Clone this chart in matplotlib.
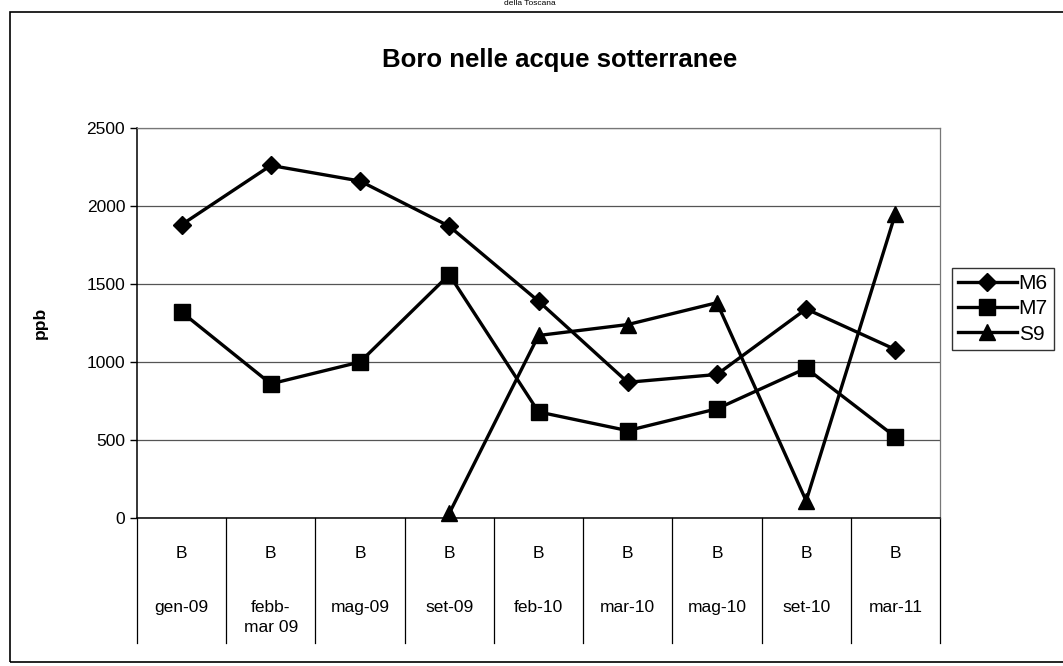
import numpy as np
import matplotlib.pyplot as plt
from matplotlib.lines import Line2D
from matplotlib.patches import Rectangle
import matplotlib.transforms as mtransforms

plt.rcParams['font.family'] = ['Liberation Sans', 'DejaVu Sans']

# data
periods = ["gen-09", "febb-\nmar 09", "mag-09", "set-09", "feb-10",
           "mar-10", "mag-10", "set-10", "mar-11"]
element = ["B"] * 9
m6 = [1880, 2260, 2160, 1870, 1390, 870, 920, 1340, 1080]
m7 = [1320, 860, 1000, 1560, 680, 560, 700, 960, 520]
s9 = [np.nan, np.nan, np.nan, 30, 1170, 1240, 1380, 110, 1950]
series = [("M6", m6, "D"), ("M7", m7, "s"), ("S9", s9, "^")]

W, H = 1063, 666
fig = plt.figure(figsize=(W / 100, H / 100), dpi=100)

# outer chart frame
fig.patches.append(Rectangle((10 / W, 4 / H), 1.2, (H - 16) / H, transform=fig.transFigure,
                             fill=False, lw=1.2, ec="black"))
fig.text(530 / W, 1.0, "della Toscana", ha="center", va="top", fontsize=6)
fig.text(560 / W, 1 - 60 / H, "Boro nelle acque sotterranee", ha="center", va="center",
         fontsize=18.5, fontweight="bold")

ax = fig.add_axes([137 / W, 1 - 518 / H, 803 / W, 390 / H])
x = np.arange(len(periods))
for name, vals, mk in series:
    ax.plot(x, vals, color="black", lw=2.4, marker=mk, ms=11 if mk != "D" else 9.5,
            label=name, clip_on=False, zorder=3)

ax.set_xlim(-0.5, len(periods) - 0.5)
ax.set_ylim(0, 2500)
ax.set_yticks(np.arange(0, 2501, 500))
ax.tick_params(axis="y", labelsize=12.5, length=5, direction="out", width=1)
ax.set_xticks([])
ax.yaxis.grid(True, color="#555555", lw=0.9)
ax.set_axisbelow(True)
for s in ["top", "right"]:
    ax.spines[s].set_color("#777777")
    ax.spines[s].set_linewidth(0.9)
ax.spines["left"].set_linewidth(1.1)
ax.spines["bottom"].set_linewidth(1.1)
ax.set_ylabel("ppb", fontsize=12.5, fontweight="bold", labelpad=28)

# two-level category table below the axis
trans = mtransforms.blended_transform_factory(ax.transData, ax.transAxes)
for i, (el, p) in enumerate(zip(element, periods)):
    ax.text(i, -0.09, el, transform=trans, ha="center", va="center", fontsize=12.5)
    ax.text(i, -0.21, p, transform=trans, ha="center", va="top", fontsize=12.5,
            linespacing=1.45)
for b in np.arange(-0.5, len(periods), 1.0):
    ax.add_line(Line2D([b, b], [0, -0.32], transform=trans, color="black", lw=0.9,
                       clip_on=False))

handles, labels = ax.get_legend_handles_labels()
leg = fig.legend(handles, labels, loc="upper left", bbox_to_anchor=(952 / W, 1 - 268 / H),
                 fontsize=15, frameon=True, fancybox=False, edgecolor="black",
                 handlelength=2.8, handletextpad=0.1, borderpad=0.3, labelspacing=0.3,
                 borderaxespad=0)
leg.get_frame().set_linewidth(1.0)

fig.savefig("out.png", dpi=100)
